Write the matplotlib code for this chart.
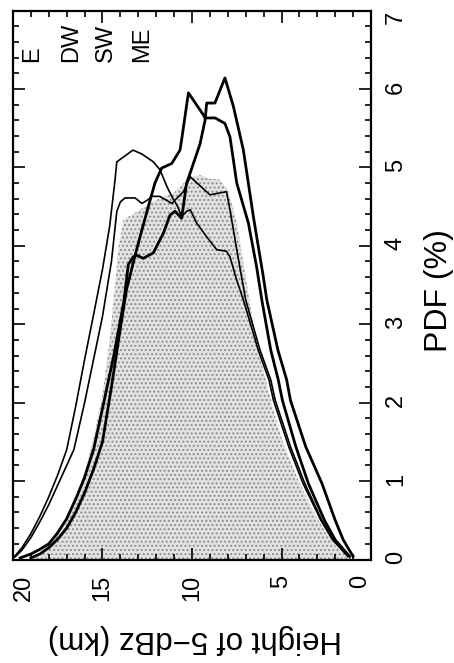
import matplotlib
matplotlib.use("Agg")
import matplotlib.pyplot as plt
from matplotlib.ticker import MultipleLocator

plt.rcParams['font.family'] = ['Liberation Sans', 'DejaVu Sans']
plt.rcParams['hatch.linewidth'] = 0.9

# Frequency distribution (%) of the 5-dBZ echo-top height (km)
height_e = [19.95, 19.5, 19.0, 18.5, 18.0, 17.5, 17.0, 16.5, 16.0, 15.5, 15.0, 14.6,
            14.3, 14.2, 13.3, 12.8, 12.16, 11.79, 11.41, 11.13, 10.8, 10.58, 10.3,
            10.1, 9.74, 9.2, 8.62, 8.07, 7.88, 7.5, 7.13, 6.3, 5.7, 5.45, 4.6, 3.8,
            2.8, 2.15, 1.3]
pdf_e = [0.03, 0.15, 0.33, 0.55, 0.8, 1.08, 1.4, 1.95, 2.55, 3.12, 3.7, 4.25,
         4.84, 5.07, 5.22, 5.17, 5.07, 4.97, 4.76, 4.63, 4.5, 4.37, 4.44,
         4.46, 4.29, 4.12, 3.95, 3.93, 3.86, 3.56, 3.31, 2.67, 2.29, 2.03, 1.44, 0.97,
         0.5, 0.25, 0.04]

height_dw = [19.9, 19.5, 19.0, 18.5, 18.0, 17.5, 17.0, 16.6, 16.0, 15.5, 15.0, 14.5,
             14.2, 14.0, 13.74, 13.18, 12.8, 12.44, 12.25, 11.8, 11.13, 10.48, 10.1,
             9.0, 8.07, 7.88, 7.5, 7.0, 6.2, 5.6, 5.35, 4.5, 3.7, 2.75, 2.1, 1.25]
pdf_dw = [0.03, 0.12, 0.28, 0.48, 0.7, 0.95, 1.2, 1.4, 2.0, 2.55, 3.1, 3.8,
          4.44, 4.56, 4.61, 4.61, 4.54, 4.59, 4.63, 4.63, 4.54, 4.69, 4.88,
          4.65, 4.69, 4.46, 3.95, 3.31, 2.67, 2.29, 2.03, 1.44, 0.97, 0.5, 0.25, 0.04]

height_sw = [19.0, 18.5, 18.0, 17.5, 17.0, 16.5, 16.0, 15.5, 15.0, 14.5, 14.0, 13.66,
             13.2, 12.8, 12.44, 12.07, 11.7, 11.13, 10.67, 10.58, 10.2, 9.37, 9.27,
             8.71, 8.16, 7.88, 7.5, 6.85, 6.39, 6.1, 5.6, 5.18, 4.95, 4.2, 3.5, 2.6,
             2.0, 1.2]
pdf_sw = [0.02, 0.07, 0.15, 0.26, 0.4, 0.6, 0.85, 1.15, 1.5, 2.2, 2.95, 3.44,
          3.86, 4.2, 4.5, 4.8, 4.99, 5.05, 5.22, 5.35, 5.95, 5.67, 5.63,
          5.63, 5.56, 5.39, 4.8, 4.29, 3.73, 3.31, 2.67, 2.29, 2.03, 1.44, 0.97, 0.5,
          0.25, 0.04]

height_me = [19.6, 19.0, 18.5, 18.0, 17.54, 17.0, 16.42, 16.0, 15.49, 14.93, 14.37,
             13.8, 13.56, 13.28, 13.09, 12.72, 12.16, 11.6, 11.23, 10.95, 10.58, 10.3,
             10.1, 9.55, 9.27, 9.18, 8.72, 8.16, 7.69, 7.13, 6.57, 6.02, 5.82, 5.2,
             4.71, 4.5, 3.65, 2.74, 2.0, 1.55, 1.0]
pdf_me = [0.02, 0.07, 0.13, 0.2, 0.33, 0.52, 0.81, 1.05, 1.41, 2.0, 2.6,
          3.3, 3.76, 3.86, 3.88, 3.84, 3.91, 4.16, 4.39, 4.44, 4.35, 4.8,
          4.93, 5.3, 5.6, 5.82, 5.82, 6.14, 5.78, 5.22, 4.37, 3.61, 3.31, 2.67,
          2.29, 2.03, 1.44, 0.97, 0.5, 0.25, 0.04]

# All cases together (stippled area)
height_all = [18.9, 18.5, 18.0, 17.5, 17.0, 16.5, 16.0, 15.5, 15.0, 14.6, 14.3, 14.1,
              13.84, 12.9, 11.97, 11.04, 10.1, 9.5, 9.0, 8.5, 8.0, 7.5, 7.0, 6.5,
              6.0, 5.5, 5.0, 4.5, 4.0, 3.5, 3.0, 2.5, 2.0, 1.5, 1.0, 0.7]
pdf_all = [0.0, 0.08, 0.2, 0.35, 0.55, 0.8, 1.1, 1.55, 2.1, 2.8, 3.5, 4.0,
           4.33, 4.46, 4.59, 4.67, 4.88, 4.9, 4.85, 4.85, 4.72, 4.3, 3.6, 2.9,
           2.4, 1.95, 1.55, 1.25, 0.98, 0.74, 0.52, 0.34, 0.18, 0.07, 0.01, 0.0]

legend_labels = ["E", "DW", "SW", "ME"]
height_ticks = [0, 5, 10, 15, 20]
pdf_ticks = [0, 1, 2, 3, 4, 5, 6, 7]

W, H = 454, 663
fig = plt.figure(figsize=(W / 100, H / 100), dpi=100)
ax = fig.add_axes([13 / W, 1 - 559.5 / H, 358 / W, 549 / H])

ax.fill_between(height_all, pdf_all, 0, facecolor='#e2e2e2', edgecolor='#8a8a8a',
                hatch='....', linewidth=0, zorder=1)
ax.plot(height_e, pdf_e, color='k', lw=1.2, zorder=3)
ax.plot(height_dw, pdf_dw, color='k', lw=1.2, zorder=3)
ax.plot(height_sw, pdf_sw, color='k', lw=2.0, zorder=3)
ax.plot(height_me, pdf_me, color='k', lw=2.0, zorder=3)

ax.set_xlim(20, 0)
ax.set_ylim(0, 7)
ax.set_xticks(height_ticks)
ax.set_yticks(pdf_ticks)
ax.xaxis.set_minor_locator(MultipleLocator(1))
ax.yaxis.set_minor_locator(MultipleLocator(0.2))
for s in ax.spines.values():
    s.set_linewidth(1.6)

ax.tick_params(which='both', direction='in', top=True, bottom=True, left=True,
               right=True, labelleft=False, labelright=True, width=1.2)
ax.tick_params(which='major', length=8.5)
ax.tick_params(which='minor', length=4.3)
ax.tick_params(axis='x', labelrotation=90, labelsize=17, pad=11)
ax.tick_params(axis='y', labelrotation=90, labelsize=17, pad=10)

xt = ax.xaxis.get_major_ticks()
xt[-1].label1.set_horizontalalignment('left')
xt[0].label1.set_horizontalalignment('right')
yt = ax.yaxis.get_major_ticks()
yt[-1].label2.set_verticalalignment('top')

fig.text(439 / W, 1 - 291 / H, "PDF (%)", rotation=90, fontsize=23,
         ha='center', va='center')
fig.text(195 / W, 1 - 639 / H, "Height of 5\u2212dBz (km)", rotation=180,
         fontsize=22.5, ha='center', va='center')

for lab, xc in zip(legend_labels, [32, 71, 106, 142]):
    fig.text(xc / W, 1 - 62 / H, lab, rotation=90, fontsize=17,
             ha='center', va='bottom')

fig.savefig("out.png", dpi=100)
